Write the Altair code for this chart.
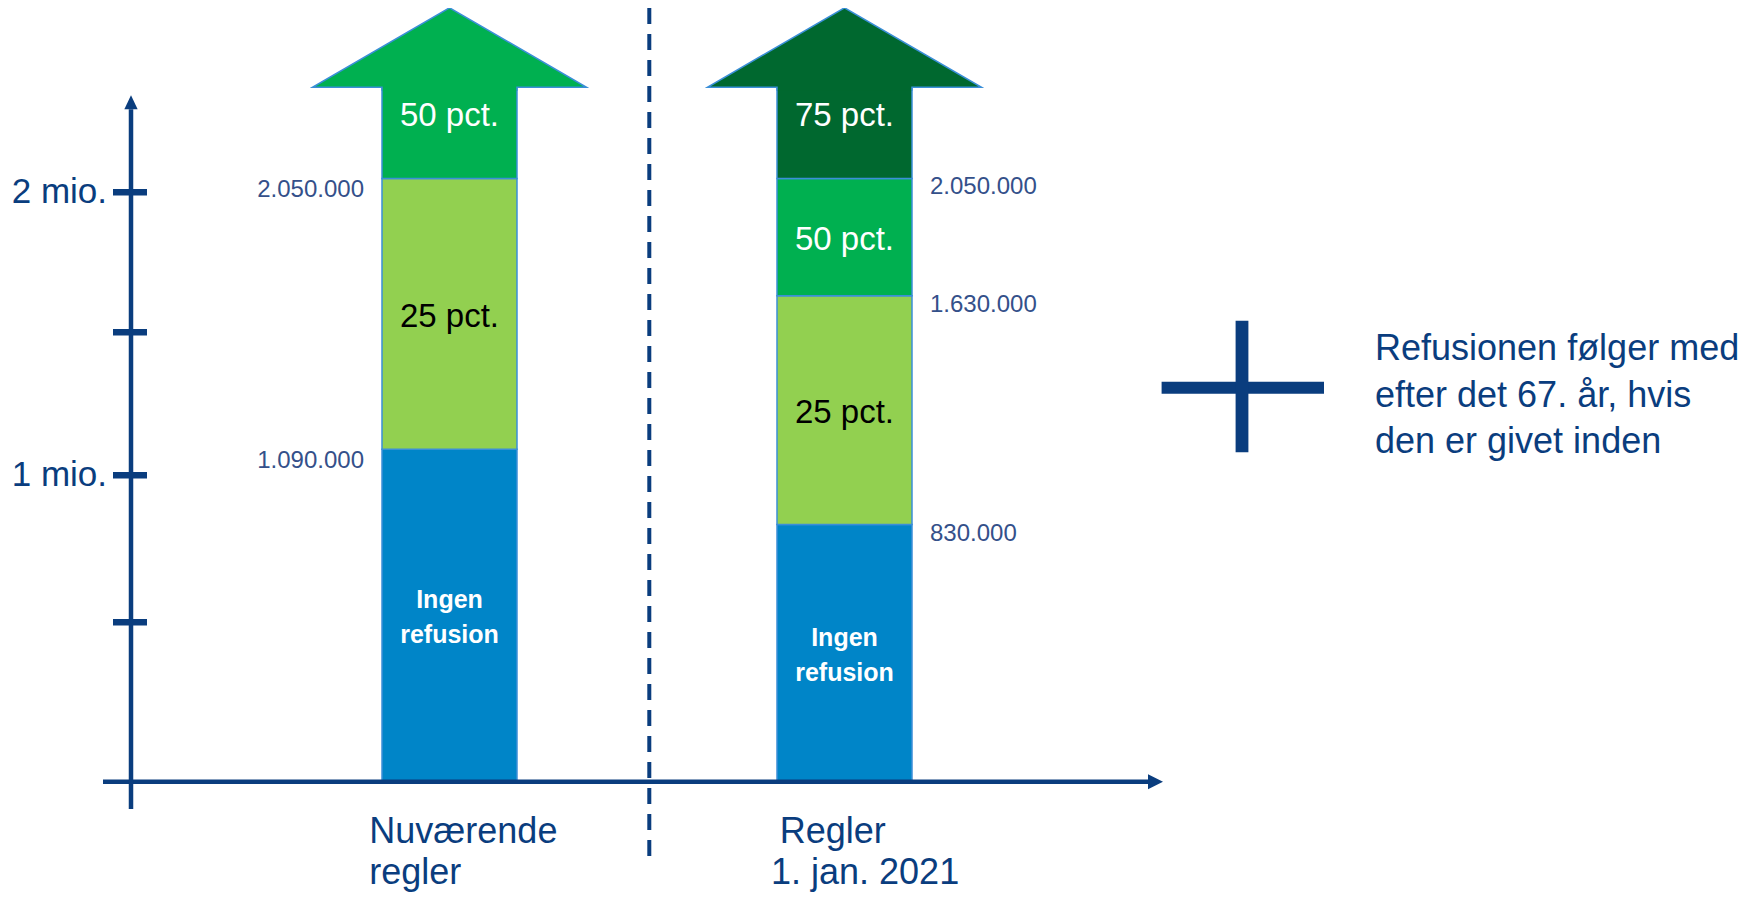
import altair as alt
import pandas as pd

# ---------------- data ----------------
categories = ["Nuværende regler", "Regler 1. jan. 2021"]

# refusion bands per rule set (kr); the top band is open-ended (drawn as an arrow)
seg_category = ["Nuværende regler"] * 3 + ["Regler 1. jan. 2021"] * 4
seg_start = [0, 1090000, 2050000, 0, 830000, 1630000, 2050000]
seg_end = [1090000, 2050000, 2380000, 830000, 1630000, 2050000, 2380000]
seg_rate = ["Ingen refusion", "25 pct.", "50 pct.",
            "Ingen refusion", "25 pct.", "50 pct.", "75 pct."]

threshold_category = ["Nuværende regler", "Nuværende regler",
                      "Regler 1. jan. 2021", "Regler 1. jan. 2021", "Regler 1. jan. 2021"]
threshold_value = [2050000, 1090000, 2050000, 1630000, 830000]
threshold_label = ["2.050.000", "1.090.000", "2.050.000", "1.630.000", "830.000"]

y_tick_values = [500000, 1000000, 1500000, 2000000]
y_label_values = [1000000, 2000000]
y_label_texts = ["1 mio.", "2 mio."]

x_label_line1 = ["Nuværende", "Regler"]
x_label_line2 = ["regler", "1. jan. 2021"]

note_lines = ["Refusionen følger med", "efter det 67. år, hvis", "den er givet inden"]

# ---------------- styles / layout ----------------
FONT = "Liberation Sans"
NAVY = "#0A3D7E"
NUM = "#34508A"
EDGE = "#3B8FD8"
rate_domain = ["Ingen refusion", "25 pct.", "50 pct.", "75 pct."]
rate_colors = ["#0085C8", "#92D050", "#00B050", "#00682F"]
rate_text = {"Ingen refusion": "white", "25 pct.": "black", "50 pct.": "white", "75 pct.": "white"}

W, H = 1740, 884
EXP = 0.943  # exponent of the (slightly compressed) vertical scale

seg_df = pd.DataFrame({"cat": seg_category, "start": seg_start, "end": seg_end, "rate": seg_rate})
# label anchor: the value half-way between the band edges in the scale's own space
seg_df["mid"] = ((seg_df["start"] ** EXP + seg_df["end"] ** EXP) / 2) ** (1 / EXP)
seg_df["tcolor"] = seg_df["rate"].map(rate_text)
top_value = max(seg_end)
seg_df["open"] = seg_df["end"] == top_value
head_df = seg_df[seg_df["open"]][["cat", "end", "rate"]].rename(columns={"end": "top"})

thr_df = pd.DataFrame({"cat": threshold_category, "v": threshold_value, "label": threshold_label})
tick_df = pd.DataFrame({"v": y_tick_values})
ylab_df = pd.DataFrame({"v": y_label_values, "label": y_label_texts})
zero_df = pd.DataFrame({"v": [0]})
xlab_df = pd.DataFrame({"cat": categories, "l1": x_label_line1, "l2": x_label_line2,
                        "o1": [-12.7, 2.8], "o2": [-12.7, -6.0]})
note_df = pd.DataFrame({"t": ["\n".join(note_lines)]})
one = pd.DataFrame({"k": [0]})

xs = alt.Scale(domain=categories, range=[374, 904], paddingInner=0.65823, paddingOuter=0)
ys = alt.Scale(type="pow", exponent=EXP, domain=[-338200, 2669000], nice=False, zero=False)
X = alt.X("cat:N", scale=xs, axis=None)
rate_scale = alt.Scale(domain=rate_domain, range=rate_colors)

HEAD_PATH = "M-0.4927,0.025L-0.4927,0L-1,0L0,-0.58L1,0L0.4927,0L0.4927,0.025"

bars = alt.Chart(seg_df).mark_bar(stroke=EDGE, strokeWidth=1.5).encode(
    x=X,
    y=alt.Y("start:Q", scale=ys, axis=None),
    y2="end:Q",
    color=alt.Color("rate:N", scale=rate_scale, legend=None),
)

heads = alt.Chart(head_df).mark_point(
    shape=HEAD_PATH, size=274 ** 2, filled=True, opacity=1, stroke=EDGE, strokeWidth=1.5
).encode(
    x=X,
    y=alt.Y("top:Q", scale=ys),
    color=alt.Color("rate:N", scale=rate_scale, legend=None),
)

x_axis = alt.Chart(zero_df).mark_rule(color=NAVY, strokeWidth=4.5).encode(
    y=alt.Y("v:Q", scale=ys), x=alt.value(95), x2=alt.value(1141)
)
x_arrow = alt.Chart(zero_df).mark_point(
    shape="M0,-1L2,0L0,1Z", size=225, filled=True, opacity=1, color=NAVY
).encode(y=alt.Y("v:Q", scale=ys), x=alt.value(1140))

y_axis = alt.Chart(one).mark_rule(color=NAVY, strokeWidth=4.5).encode(
    x=alt.value(123), y=alt.value(101.3), y2=alt.value(801)
)
y_arrow = alt.Chart(one).mark_point(
    shape="M-1,0L0,-2.1L1,0Z", size=177, filled=True, opacity=1, color=NAVY
).encode(x=alt.value(123), y=alt.value(101.3))

ticks = alt.Chart(tick_df).mark_rule(color=NAVY, strokeWidth=6.5).encode(
    y=alt.Y("v:Q", scale=ys), x=alt.value(105), x2=alt.value(139)
)
y_labels = alt.Chart(ylab_df).mark_text(
    font=FONT, fontSize=35, align="right", baseline="middle", color=NAVY
).encode(y=alt.Y("v:Q", scale=ys), x=alt.value(99), text="label:N")

divider = alt.Chart(one).mark_rule(color=NAVY, strokeWidth=4, strokeDash=[16, 10]).encode(
    x=alt.value(641.3), y=alt.value(0), y2=alt.value(852)
)

closed_df = seg_df[(seg_df["rate"] != "Ingen refusion") & (~seg_df["open"])]
open_df = seg_df[seg_df["open"]]

pct_labels = alt.Chart(closed_df).mark_text(
    font=FONT, fontSize=33, baseline="middle", dy=3
).encode(
    x=X, y=alt.Y("mid:Q", scale=ys), text="rate:N", color=alt.Color("tcolor:N", scale=None)
)
top_labels = alt.Chart(open_df).mark_text(
    font=FONT, fontSize=33, baseline="middle", dy=-17
).encode(
    x=X, y=alt.Y("mid:Q", scale=ys), text="rate:N", color=alt.Color("tcolor:N", scale=None)
)
none_labels = alt.Chart(seg_df[seg_df["rate"] == "Ingen refusion"]).mark_text(
    font=FONT, fontSize=25, fontWeight="bold", baseline="top", lineBreak=" ",
    lineHeight=35, dy=-27, color="white"
).encode(x=X, y=alt.Y("mid:Q", scale=ys), text="rate:N")

thr_left = alt.Chart(thr_df[thr_df["cat"] == categories[0]]).mark_text(
    font=FONT, fontSize=24, align="right", baseline="middle", dx=-85.5, dy=12, color=NUM
).encode(x=X, y=alt.Y("v:Q", scale=ys), text="label:N")
thr_right = alt.Chart(thr_df[thr_df["cat"] == categories[1]]).mark_text(
    font=FONT, fontSize=24, align="left", baseline="middle", dx=85.5, dy=9, color=NUM
).encode(x=X, y=alt.Y("v:Q", scale=ys), text="label:N")

xlab1 = alt.Chart(xlab_df).mark_text(
    font=FONT, fontSize=36, align="left", baseline="alphabetic", color=NAVY
).encode(x=X, xOffset=alt.XOffset("o1:Q", scale=None), y=alt.value(835), text="l1:N")
xlab2 = alt.Chart(xlab_df).mark_text(
    font=FONT, fontSize=36, align="left", baseline="alphabetic", color=NAVY
).encode(x=X, xOffset=alt.XOffset("o2:Q", scale=None), y=alt.value(876), text="l2:N")

plus_h = alt.Chart(one).mark_rule(color=NAVY, strokeWidth=12).encode(
    x=alt.value(1153.6), x2=alt.value(1316), y=alt.value(379.7)
)
plus_v = alt.Chart(one).mark_rule(color=NAVY, strokeWidth=12.8).encode(
    x=alt.value(1234), y=alt.value(312.7), y2=alt.value(444.3)
)
note = alt.Chart(note_df).mark_text(
    font=FONT, fontSize=36, align="left", baseline="top", lineBreak="\n",
    lineHeight=46.5, color=NAVY
).encode(x=alt.value(1367), y=alt.value(324), text="t:N")

chart = alt.layer(
    bars, heads, x_axis, x_arrow, y_axis, y_arrow, ticks, y_labels, divider,
    pct_labels, top_labels, none_labels, thr_left, thr_right, xlab1, xlab2,
    plus_h, plus_v, note
).properties(
    width=W, height=H, padding=0, autosize="none", background="white"
).configure_view(stroke=None)

chart.save("out.html", embed_options={"renderer": "svg", "actions": False})
